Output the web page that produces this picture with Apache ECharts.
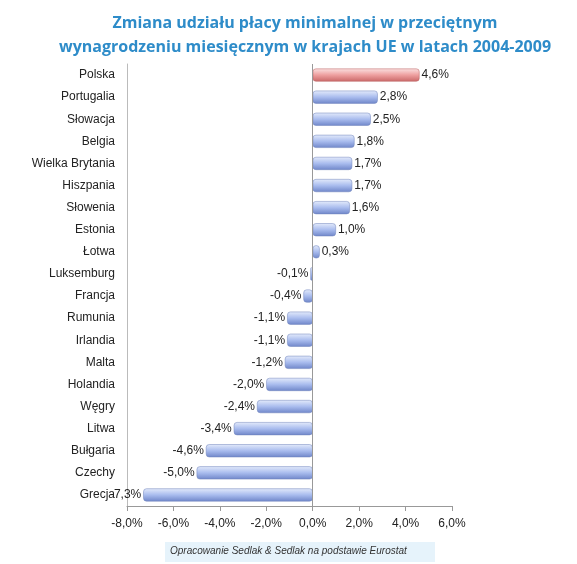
<!DOCTYPE html>
<html><head><meta charset="utf-8">
<script src="https://cdn.jsdelivr.net/npm/echarts@6/dist/echarts.min.js"></script>
<style>html,body{margin:0;padding:0;background:#fff}#main{width:577px;height:564px}</style>
</head><body><div id="main"></div>
<script>
var countries = ['Polska','Portugalia','Słowacja','Belgia','Wielka Brytania','Hiszpania','Słowenia','Estonia','Łotwa','Luksemburg','Francja','Rumunia','Irlandia','Malta','Holandia','Węgry','Litwa','Bułgaria','Czechy','Grecja'];
var changes = [4.6,2.8,2.5,1.8,1.7,1.7,1.6,1.0,0.3,-0.1,-0.4,-1.1,-1.1,-1.2,-2.0,-2.4,-3.4,-4.6,-5.0,-7.3];

var blue = new echarts.graphic.LinearGradient(0,0,0,1,[{offset:0,color:'#e4ebfb'},{offset:0.5,color:'#a9bcee'},{offset:1,color:'#6f86c9'}]);
var red = new echarts.graphic.LinearGradient(0,0,0,1,[{offset:0,color:'#fbe2e2'},{offset:0.5,color:'#ee9f9f'},{offset:1,color:'#c96767'}]);

var chart = echarts.init(document.getElementById('main'));
chart.setOption({
  animation:false,
  title:{text:'Zmiana udziału płacy minimalnej w przeciętnym\nwynagrodzeniu miesięcznym w krajach UE w latach 2004-2009',
    left:300,top:6,textAlign:'center',
    textStyle:{color:'#2e8cc9',fontSize:16,fontWeight:'bold',lineHeight:24,fontFamily:'Open Sans'}},
  grid:{left:127,right:125,top:64,bottom:58},
  xAxis:{type:'value',min:-8,max:6,interval:2,
    axisLabel:{formatter:function(v){return v.toFixed(1).replace('.',',')+'%';},color:'#222',fontSize:12,margin:12},
    splitLine:{show:false},axisLine:{show:true,lineStyle:{color:'#999'}},axisTick:{show:true,lineStyle:{color:'#999'}}},
  yAxis:{type:'category',inverse:true,data:countries,
    axisLine:{show:true,onZero:false,lineStyle:{color:'#bbb'}},axisTick:{show:false},
    axisLabel:{color:'#222',fontSize:12,margin:12}},
  series:[{type:'bar',barWidth:13,
    data:changes.map(function(v,i){return {value:v,itemStyle:{color:i===0?red:blue,borderRadius:3,borderColor:i===0?'#b86060':'#6f82bb',borderWidth:0.5},
      label:{position:v>=0?'right':'left'}};}),
    label:{show:true,color:'#222',fontSize:12,distance:2,
      formatter:function(p){return p.value.toFixed(1).replace('.',',')+'%';}},
    markLine:{silent:true,symbol:'none',label:{show:false},lineStyle:{color:'#999',type:'solid',width:1},data:[{xAxis:0}]}
  }],
  graphic:[
    {type:'rect',left:165,top:542,shape:{width:270,height:20},style:{fill:'#e6f3fb'}},
    {type:'text',left:170,top:546,style:{text:'Opracowanie Sedlak & Sedlak na podstawie Eurostat',fontSize:10,fontStyle:'italic',fill:'#333'}}
  ]
});
</script></body></html>
